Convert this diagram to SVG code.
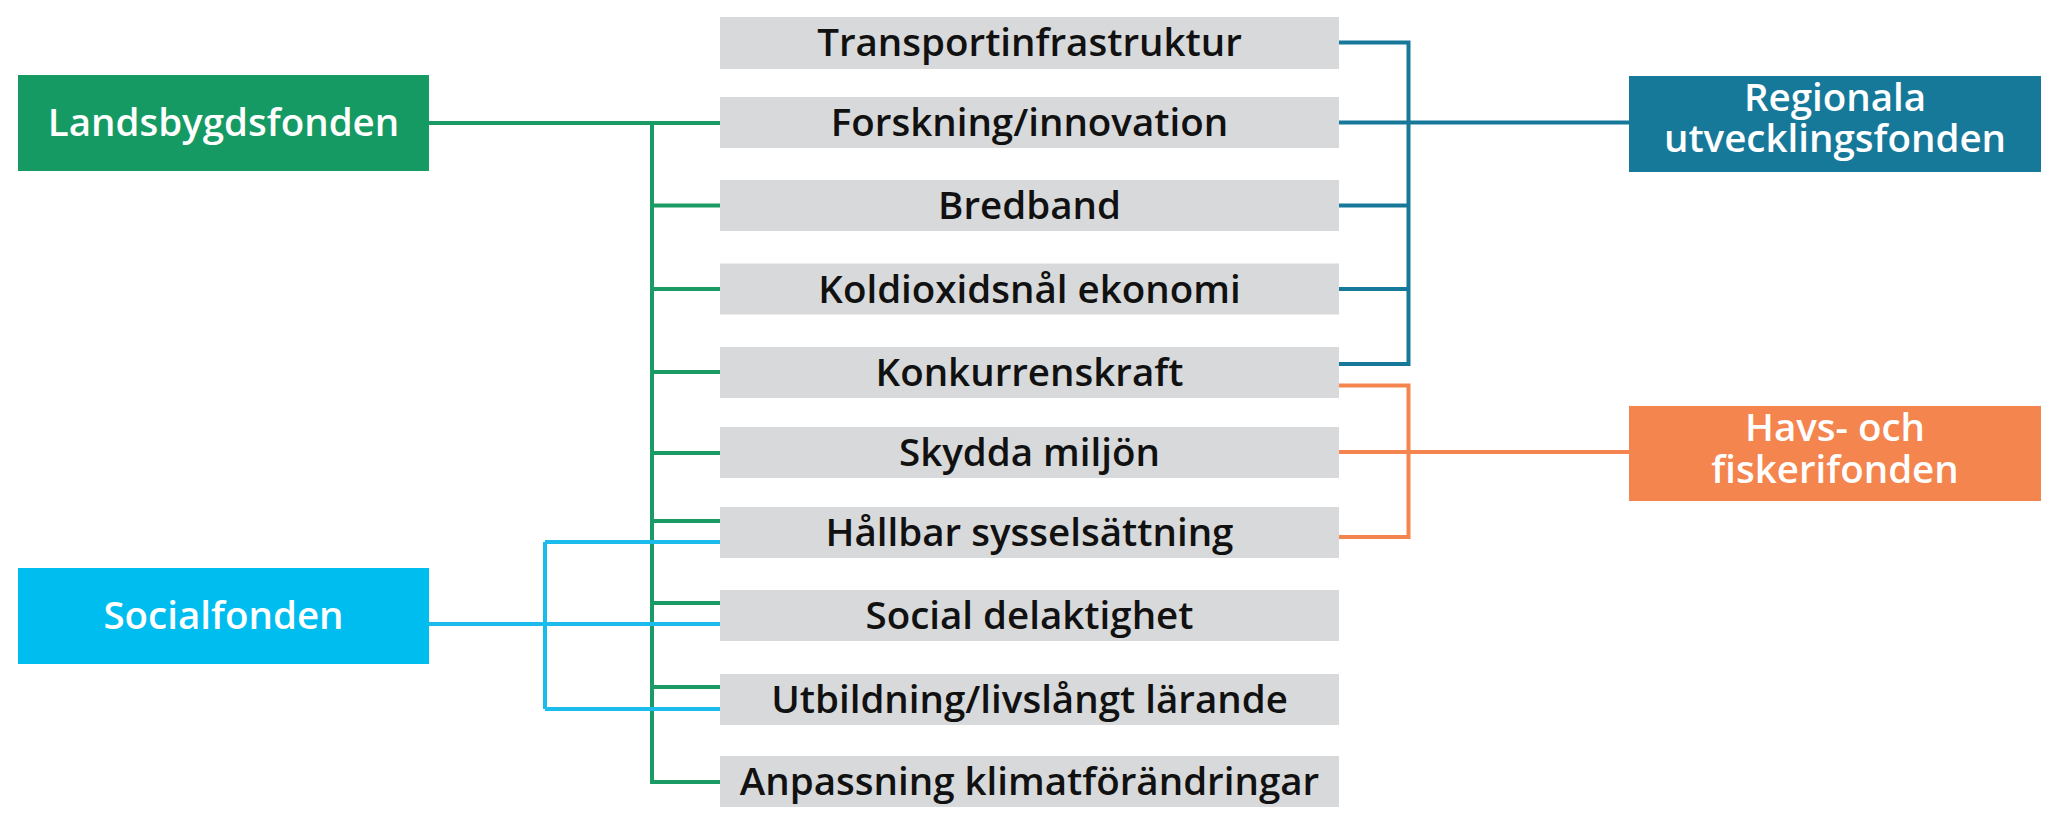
<svg xmlns="http://www.w3.org/2000/svg" width="2056" height="814" viewBox="0 0 2056 814">
<style>
.item{fill:#d8d9da}
.it{font-family:"Open Sans","Noto Sans",sans-serif;font-weight:600;font-size:38.5px;fill:#111;text-anchor:middle}
.ft{font-family:"Open Sans","Noto Sans",sans-serif;font-weight:600;font-size:38.5px;fill:#fff;text-anchor:middle}
.g{stroke:#1a9a64;stroke-width:4;fill:none}
.b{stroke:#17799a;stroke-width:4;fill:none}
.c{stroke:#1bbcec;stroke-width:4;fill:none}
.o{stroke:#f4854f;stroke-width:4;fill:none}
</style>
<rect width="2056" height="814" fill="#fff"/>
<g id="connectors">
<path class="g" d="M429 123H720M652 123V782H720M652 205.5H720M652 289H720M652 372H720M652 453H720M652 521H720M652 603H720M652 687H720"/>
<path class="c" d="M429 624H720M545 542V709M545 542H720M545 709H720"/>
<path class="b" d="M1339 42.5H1408.5V364H1339M1339 122.5H1629M1339 205.5H1408.5M1339 289H1408.5"/>
<path class="o" d="M1339 385.5H1408.5V537H1339M1339 452H1629"/>
</g>
<g id="landsbygdsfonden"><rect x="18" y="75" width="411" height="96" fill="#169a63"/><text class="ft" x="223.5" y="136">Landsbygdsfonden</text></g>
<g id="socialfonden"><rect x="18" y="568" width="411" height="96" fill="#00bdef"/><text class="ft" x="223.5" y="629">Socialfonden</text></g>
<g id="regionala"><rect x="1629" y="76" width="412" height="96" fill="#17799a"/><text class="ft" x="1835" y="111">Regionala</text><text class="ft" x="1835" y="152">utvecklingsfonden</text></g>
<g id="havs"><rect x="1629" y="406" width="412" height="95" fill="#f4854f"/><text class="ft" x="1835" y="441">Havs- och</text><text class="ft" x="1835" y="483">fiskerifonden</text></g>
<g id="i1"><rect class="item" x="720" y="17" width="619" height="52"/><text class="it" x="1029.5" y="56">Transportinfrastruktur</text></g>
<g id="i2"><rect class="item" x="720" y="97" width="619" height="51"/><text class="it" x="1029.5" y="136">Forskning/innovation</text></g>
<g id="i3"><rect class="item" x="720" y="180" width="619" height="51"/><text class="it" x="1029.5" y="219">Bredband</text></g>
<g id="i4"><rect class="item" x="720" y="263.5" width="619" height="51"/><text class="it" x="1029.5" y="302.5">Koldioxidsnål ekonomi</text></g>
<g id="i5"><rect class="item" x="720" y="347" width="619" height="51"/><text class="it" x="1029.5" y="386">Konkurrenskraft</text></g>
<g id="i6"><rect class="item" x="720" y="427" width="619" height="51"/><text class="it" x="1029.5" y="466">Skydda miljön</text></g>
<g id="i7"><rect class="item" x="720" y="507" width="619" height="51"/><text class="it" x="1029.5" y="546">Hållbar sysselsättning</text></g>
<g id="i8"><rect class="item" x="720" y="590" width="619" height="51"/><text class="it" x="1029.5" y="629">Social delaktighet</text></g>
<g id="i9"><rect class="item" x="720" y="674" width="619" height="51"/><text class="it" x="1029.5" y="713">Utbildning/livslångt lärande</text></g>
<g id="i10"><rect class="item" x="720" y="756" width="619" height="51"/><text class="it" x="1029.5" y="795">Anpassning klimatförändringar</text></g>
</svg>
